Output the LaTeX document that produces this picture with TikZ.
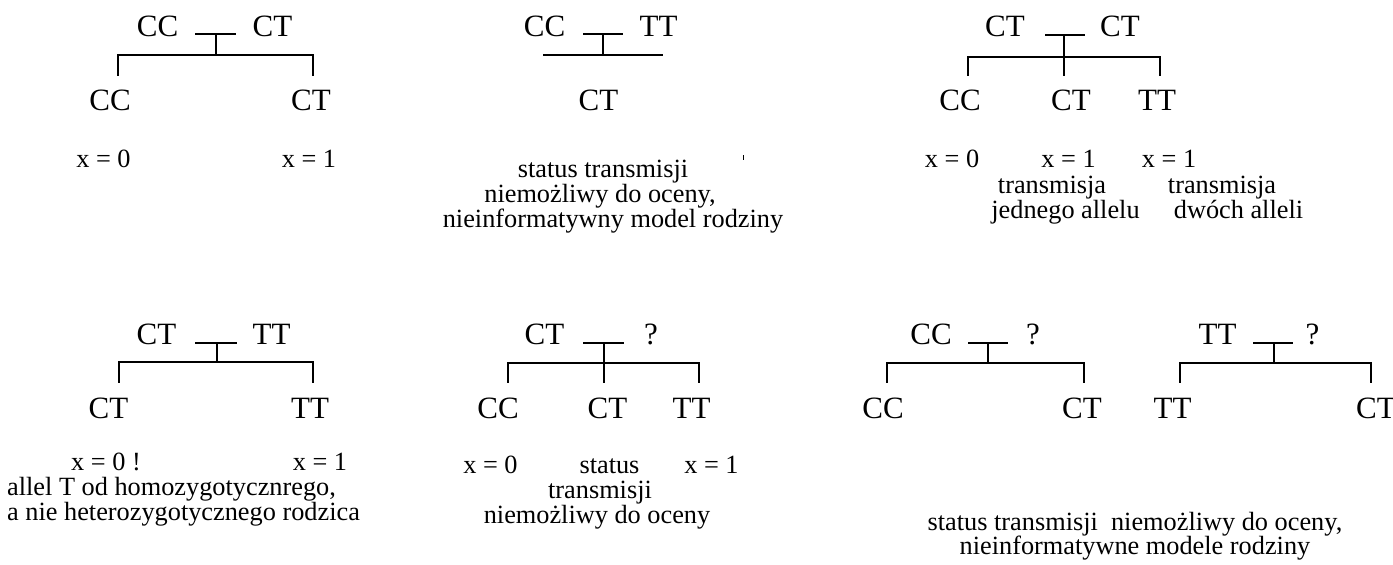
\documentclass[tikz,border=0pt]{standalone}
\usepackage{fontspec}
\setmainfont{Liberation Serif}
\newcommand\genfont{\fontsize{31}{31}\selectfont}
\newcommand\labfont{\fontsize{26.3}{25}\selectfont}
\begin{document}
\begin{tikzpicture}[x=1pt,y=-1pt,
  gen/.style={font=\genfont,inner sep=0pt,anchor=base},
  lab/.style={font=\labfont,inner sep=0pt,anchor=base},
  labw/.style={font=\labfont,inner sep=0pt,anchor=base west},
  tree/.style={line width=2pt,line cap=rect},
  bar/.style={line width=2.4pt}]
\useasboundingbox (0,0) rectangle (1393,565);
\clip (0,0) rectangle (1393,565);
\fill[white] (0,0) rectangle (1393,565);

% ---- panel 1: CC x CT
\node[gen] (a1) at (157.5,36) {CC};
\node[gen] (a2) at (272.5,36) {CT};
\coordinate (a3) at (195,34); \coordinate (a4) at (236,34);
\coordinate (a5) at (216,34); \coordinate (a6) at (216,55);
\coordinate (a7) at (118,75); \coordinate (a8) at (313,75);
\draw[bar] (a3) -- (a4);
\draw[tree] (a5) -- (a6);
\draw[tree] (a7) |- (a6) -| (a8);
\node[gen] (a9) at (110,110) {CC};
\node[gen] (a10) at (311,110) {CT};
\node[lab] (a11) at (103.5,167) {x = 0};
\node[lab] (a12) at (309,167) {x = 1};

% ---- panel 2: CC x TT
\node[gen] (b1) at (544.5,36) {CC};
\node[gen] (b2) at (658.5,36) {TT};
\coordinate (b3) at (583,34); \coordinate (b4) at (623,34);
\coordinate (b5) at (603,34); \coordinate (b6) at (603,55);
\coordinate (b7) at (544,55); \coordinate (b8) at (662,55);
\draw[bar] (b3) -- (b4);
\draw[tree] (b5) -- (b6);
\draw[tree] (b7) -- (b8);
\node[gen] (b9) at (598.5,110) {CT};
\node[lab] (b10) at (603,177) {status transmisji};
\node[lab] (b11) at (600,202) {niemożliwy do oceny,};
\node[lab] (b12) at (613,227) {nieinformatywny model rodziny};
\coordinate (b13) at (743,155); \coordinate (b14) at (743,160);
\draw[line width=1pt] (b13) -- (b14);

% ---- panel 3: CT x CT
\node[gen] (c1) at (1005,36) {CT};
\node[gen] (c2) at (1120,36) {CT};
\coordinate (c3) at (1045,35); \coordinate (c4) at (1085,35);
\coordinate (c5) at (1064,35); \coordinate (c6) at (1064,57);
\coordinate (c7) at (968,75); \coordinate (c8) at (1160,75);
\coordinate (c15) at (1064,75);
\draw[bar] (c3) -- (c4);
\draw[tree] (c5) -- (c15);
\draw[tree] (c7) |- (c6) -| (c8);
\node[gen] (c9) at (960,110) {CC};
\node[gen] (c10) at (1071,110) {CT};
\node[gen] (c11) at (1157,110) {TT};
\node[lab] (c12) at (952,167) {x = 0};
\node[lab] (c13) at (1068.5,167) {x = 1};
\node[lab] (c14) at (1169,167) {x = 1};
\node[lab] (c16) at (1052,193) {transmisja};
\node[lab] (c17) at (1065.5,218) {jednego allelu};
\node[lab] (c18) at (1222,193) {transmisja};
\node[lab] (c19) at (1238.5,218) {dwóch alleli};

% ---- panel 4: CT x TT
\node[gen] (d1) at (156.5,344) {CT};
\node[gen] (d2) at (271.5,344) {TT};
\coordinate (d3) at (195,343); \coordinate (d4) at (237,343);
\coordinate (d5) at (217,343); \coordinate (d6) at (217,362);
\coordinate (d7) at (119,382); \coordinate (d8) at (313,382);
\draw[bar] (d3) -- (d4);
\draw[tree] (d5) -- (d6);
\draw[tree] (d7) |- (d6) -| (d8);
\node[gen] (d9) at (108.5,418) {CT};
\node[gen] (d10) at (310,418) {TT};
\node[lab] (d11) at (106,470) {x = 0 !};
\node[lab] (d12) at (320,470) {x = 1};
\node[labw] (d13) at (7,495) {allel T od homozygotycznrego,};
\node[labw] (d14) at (7,520) {a nie heterozygotycznego rodzica};

% ---- panel 5: CT x ?
\node[gen] (e1) at (544.5,344) {CT};
\node[gen] (e2) at (651,344) {?};
\coordinate (e3) at (583,343); \coordinate (e4) at (624,343);
\coordinate (e5) at (604,343); \coordinate (e6) at (604,363);
\coordinate (e7) at (508,382); \coordinate (e8) at (699,382);
\coordinate (e15) at (604,382);
\draw[bar] (e3) -- (e4);
\draw[tree] (e5) -- (e15);
\draw[tree] (e7) |- (e6) -| (e8);
\node[gen] (e9) at (498,418) {CC};
\node[gen] (e10) at (607.5,418) {CT};
\node[gen] (e11) at (691.5,418) {TT};
\node[lab] (e12) at (490.5,473) {x = 0};
\node[lab] (e13) at (609.5,473) {status};
\node[lab] (e14) at (711.5,473) {x = 1};
\node[lab] (e16) at (600,498) {transmisji};
\node[lab] (e17) at (597,523) {niemożliwy do oceny};

% ---- panel 6a: CC x ?
\node[gen] (f1) at (931,344) {CC};
\node[gen] (f2) at (1033,344) {?};
\coordinate (f3) at (968,343); \coordinate (f4) at (1008,343);
\coordinate (f5) at (988,343); \coordinate (f6) at (988,363);
\coordinate (f7) at (887,382); \coordinate (f8) at (1084,382);
\draw[bar] (f3) -- (f4);
\draw[tree] (f5) -- (f6);
\draw[tree] (f7) |- (f6) -| (f8);
\node[gen] (f9) at (883,418) {CC};
\node[gen] (f10) at (1082,418) {CT};

% ---- panel 6b: TT x ?
\node[gen] (g1) at (1217.5,344) {TT};
\node[gen] (g2) at (1312.5,344) {?};
\coordinate (g3) at (1253,343); \coordinate (g4) at (1293,343);
\coordinate (g5) at (1274,343); \coordinate (g6) at (1274,363);
\coordinate (g7) at (1180,382); \coordinate (g8) at (1371,382);
\draw[bar] (g3) -- (g4);
\draw[tree] (g5) -- (g6);
\draw[tree] (g7) |- (g6) -| (g8);
\node[gen] (g9) at (1172.5,418) {TT};
\node[gen,anchor=base west] (g10) at (1356,418) {CT};

\node[lab] (h1) at (1135,530) {status transmisji\ \ niemożliwy do oceny,};
\node[lab] (h2) at (1135,554) {nieinformatywne modele rodziny};
\end{tikzpicture}
\end{document}
